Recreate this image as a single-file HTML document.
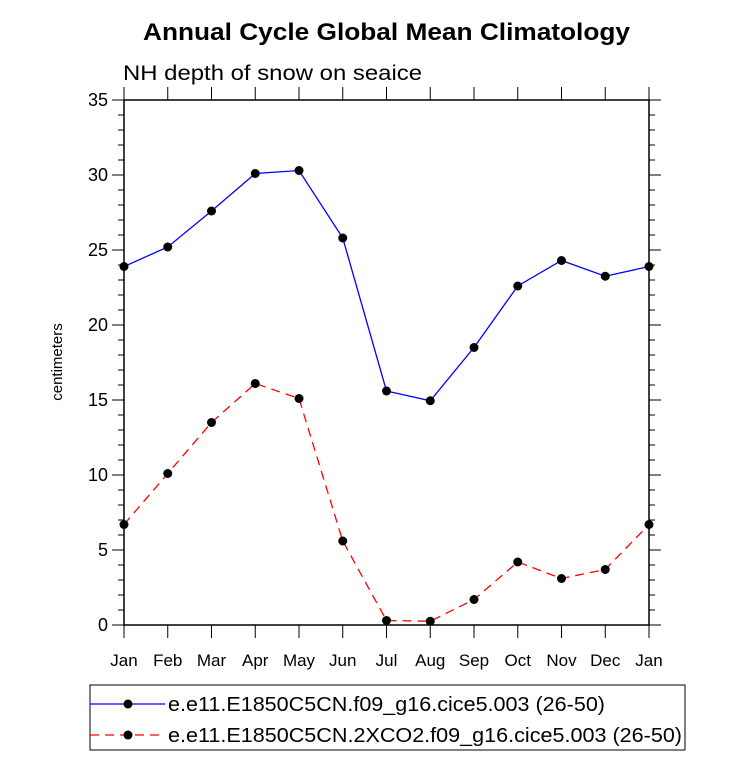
<!DOCTYPE html>
<html><head><meta charset="utf-8"><style>
body{margin:0;background:#fff;font-family:"Liberation Sans",sans-serif;}
svg text{font-family:"Liberation Sans",sans-serif;}
</style></head><body>
<svg width="733" height="761" xmlns="http://www.w3.org/2000/svg">
<text x="143" y="40" textLength="487" lengthAdjust="spacingAndGlyphs" font-size="24" font-weight="bold">Annual Cycle Global Mean Climatology</text>
<text x="123" y="80" textLength="299" lengthAdjust="spacingAndGlyphs" font-size="21">NH depth of snow on seaice</text>
<text transform="translate(62,362) rotate(-90)" text-anchor="middle" font-size="15">centimeters</text>
<g id="axes"></g>
<g id="series"></g>
<rect x="90" y="685" width="595" height="65" fill="none" stroke="#000" stroke-width="1"/>
<g>
<line x1="90" y1="704" x2="165" y2="704" stroke="#0000ff" stroke-width="1.3"/>
<circle cx="128" cy="704" r="4.5" fill="#000"/>
<text x="168" y="711" textLength="437" lengthAdjust="spacingAndGlyphs" font-size="20">e.e11.E1850C5CN.f09_g16.cice5.003 (26-50)</text>
</g>
<g>
<line x1="90" y1="735" x2="165" y2="735" stroke="#ff0000" stroke-width="1.3" stroke-dasharray="9,6"/>
<circle cx="128" cy="735" r="4.5" fill="#000"/>
<text x="168" y="742" textLength="514" lengthAdjust="spacingAndGlyphs" font-size="20">e.e11.E1850C5CN.2XCO2.f09_g16.cice5.003 (26-50)</text>
</g>
</svg>
<script>
const months=["Jan","Feb","Mar","Apr","May","Jun","Jul","Aug","Sep","Oct","Nov","Dec","Jan"];
const controlValues=[23.9,25.2,27.6,30.1,30.3,25.8,15.6,14.95,18.5,22.6,24.3,23.25,23.9];
const co2Values=[6.7,10.1,13.5,16.1,15.1,5.6,0.3,0.25,1.7,4.2,3.1,3.7,6.7];
const yTicks=[0,5,10,15,20,25,30,35];
const NS="http://www.w3.org/2000/svg";
const L=124,R=649,T=100,B=625,YMAX=35;
const xs=i=>L+(R-L)*i/(months.length-1);
const ys=v=>B-(B-T)*v/YMAX;
function mk(tag,attrs,parent){const e=document.createElementNS(NS,tag);for(const k in attrs)e.setAttribute(k,attrs[k]);parent.appendChild(e);return e;}
const ax=document.getElementById("axes");
const frame=mk("rect",{x:L,y:T,width:R-L,height:B-T,fill:"none",stroke:"#000","stroke-width":1.5},ax);


for(let v=0;v<=YMAX;v++){
  const major=v%5===0,len=major?12:6,y=ys(v);
  mk("line",{x1:L-len,y1:y,x2:L,y2:y,stroke:"#000","stroke-width":1},ax);
  mk("line",{x1:R,y1:y,x2:R+len,y2:y,stroke:"#000","stroke-width":1},ax);
}
yTicks.forEach(v=>{
  const t=mk("text",{x:L-16,y:ys(v)+6,"text-anchor":"end","font-size":18},ax);
  t.textContent=v;
  
  
});
months.forEach((m,i)=>{
  const x=xs(i);
  mk("line",{x1:x,y1:B,x2:x,y2:B+13,stroke:"#000","stroke-width":1},ax);
  mk("line",{x1:x,y1:T-13,x2:x,y2:T,stroke:"#000","stroke-width":1},ax);
  const t=mk("text",{x:x,y:B+41,"text-anchor":"middle","font-size":17},ax);
  t.textContent=m;
  
  
});
const sg=document.getElementById("series");
function drawSeries(vals,color,dash,name){
  const g=mk("g",{},sg);
  
  
  const pts=vals.map((v,i)=>xs(i)+","+ys(v)).join(" ");
  const a={points:pts,fill:"none",stroke:color,"stroke-width":1.3};
  if(dash)a["stroke-dasharray"]=dash;
  const pl=mk("polyline",a,g);
  
  
  vals.forEach((v,i)=>{
    const c=mk("circle",{cx:xs(i),cy:ys(v),r:4.5,fill:"#000"},g);
    
    
  });
}
drawSeries(controlValues,"#0000ff",null,"control-series");
drawSeries(co2Values,"#ff0000","9,6","co2-series");
</script>
</body></html>
